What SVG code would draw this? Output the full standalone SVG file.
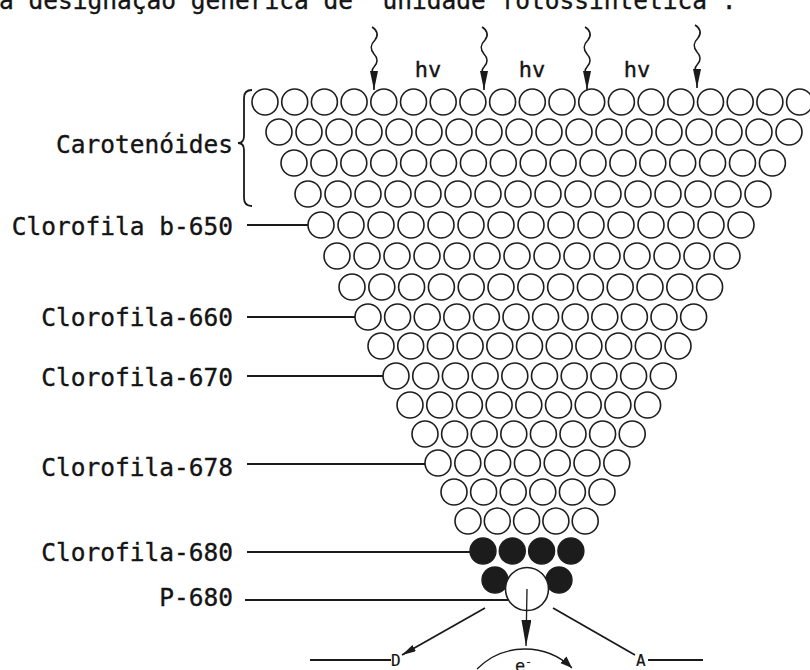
<svg xmlns="http://www.w3.org/2000/svg" xmlns:xlink="http://www.w3.org/1999/xlink" width="810" height="670" viewBox="0 0 810 670">
  <style>
    .txt { font-family: "DejaVu Sans Mono", "Liberation Mono", monospace; font-size: 24.5px; fill: #141414; stroke: #141414; stroke-width: 0.35; }
    .lbl { text-anchor: end; }
    .hv { font-size: 22px; text-anchor: middle; }
    .pig { fill: #ffffff; stroke: #1e1e1e; stroke-width: 1.6; }
    .chl { fill: #1c1c1c; stroke: #1e1e1e; stroke-width: 1.4; }
    .lead { fill: none; stroke: #1a1a1a; stroke-width: 1.8; }
    .thin { fill: none; stroke: #1a1a1a; stroke-width: 1.3; }
    .wave { fill: none; stroke: #1a1a1a; stroke-width: 1.6; }
    .head { fill: #1a1a1a; }
  </style>
  <defs>
    <marker id="photonHead" markerUnits="userSpaceOnUse" markerWidth="22" markerHeight="10" refX="19" refY="4" orient="auto">
      <path d="M0,0 L19,4 L0,8 z" class="head"/>
    </marker>
    <marker id="longHead" markerUnits="userSpaceOnUse" markerWidth="28" markerHeight="11" refX="26" refY="5" orient="auto">
      <path d="M0,0 L26,5 L0,10 z" class="head"/>
    </marker>
    <marker id="smallHead" markerUnits="userSpaceOnUse" markerWidth="16" markerHeight="8" refX="14" refY="3.5" orient="auto">
      <path d="M0,0 L14,3.5 L0,7 z" class="head"/>
    </marker>
    <marker id="arcHead" markerUnits="userSpaceOnUse" markerWidth="14" markerHeight="10" refX="12" refY="4.5" orient="auto">
      <path d="M0,0 L12,4.5 L0,9 z" class="head"/>
    </marker>
    <path id="photon" d="M-2,0 C3,3 5,8 1,13 C-4,18 -4,22 0,27 C4,31 4,36 0,40 C-3,43 -2,46 0,49 L0,63" class="wave" marker-end="url(#photonHead)"/>
  </defs>

  <rect width="810" height="670" fill="#ffffff"/>

  <!-- caption running off the top edge -->
  <text class="txt" x="-1" y="9">a designação genérica de "unidade fotossintética".</text>

  <!-- incoming light quanta -->
  <g id="light">
    <use xlink:href="#photon" x="374" y="27"/>
    <use xlink:href="#photon" x="484" y="27"/>
    <use xlink:href="#photon" x="587" y="27"/>
    <use xlink:href="#photon" x="697" y="25"/>
    <text class="txt hv" x="428" y="77">hv</text>
    <text class="txt hv" x="532" y="77">hv</text>
    <text class="txt hv" x="637" y="77">hv</text>
  </g>

  <!-- antenna pigments, top to bottom -->
  <g id="carotenoids">
    <g id="row1">
      <circle class="pig" cx="265" cy="102" r="13"/><circle class="pig" cx="294.7" cy="102" r="13"/><circle class="pig" cx="324.4" cy="102" r="13"/><circle class="pig" cx="354.1" cy="102" r="13"/><circle class="pig" cx="383.8" cy="102" r="13"/><circle class="pig" cx="413.5" cy="102" r="13"/><circle class="pig" cx="443.2" cy="102" r="13"/><circle class="pig" cx="472.9" cy="102" r="13"/><circle class="pig" cx="502.6" cy="102" r="13"/><circle class="pig" cx="532.3" cy="102" r="13"/><circle class="pig" cx="562" cy="102" r="13"/><circle class="pig" cx="591.7" cy="102" r="13"/><circle class="pig" cx="621.4" cy="102" r="13"/><circle class="pig" cx="651.1" cy="102" r="13"/><circle class="pig" cx="680.8" cy="102" r="13"/><circle class="pig" cx="710.5" cy="102" r="13"/><circle class="pig" cx="740.2" cy="102" r="13"/><circle class="pig" cx="769.9" cy="102" r="13"/><circle class="pig" cx="799.6" cy="102" r="13"/>
    </g>
    <g id="row2">
      <circle class="pig" cx="279" cy="132" r="13"/><circle class="pig" cx="309" cy="132" r="13"/><circle class="pig" cx="339" cy="132" r="13"/><circle class="pig" cx="369" cy="132" r="13"/><circle class="pig" cx="399" cy="132" r="13"/><circle class="pig" cx="429" cy="132" r="13"/><circle class="pig" cx="459" cy="132" r="13"/><circle class="pig" cx="489" cy="132" r="13"/><circle class="pig" cx="519" cy="132" r="13"/><circle class="pig" cx="549" cy="132" r="13"/><circle class="pig" cx="579" cy="132" r="13"/><circle class="pig" cx="609" cy="132" r="13"/><circle class="pig" cx="639" cy="132" r="13"/><circle class="pig" cx="669" cy="132" r="13"/><circle class="pig" cx="699" cy="132" r="13"/><circle class="pig" cx="729" cy="132" r="13"/><circle class="pig" cx="759" cy="132" r="13"/><circle class="pig" cx="789" cy="132" r="13"/>
    </g>
    <g id="row3">
      <circle class="pig" cx="294" cy="163" r="13"/><circle class="pig" cx="323.9" cy="163" r="13"/><circle class="pig" cx="353.8" cy="163" r="13"/><circle class="pig" cx="383.7" cy="163" r="13"/><circle class="pig" cx="413.6" cy="163" r="13"/><circle class="pig" cx="443.5" cy="163" r="13"/><circle class="pig" cx="473.4" cy="163" r="13"/><circle class="pig" cx="503.3" cy="163" r="13"/><circle class="pig" cx="533.2" cy="163" r="13"/><circle class="pig" cx="563.1" cy="163" r="13"/><circle class="pig" cx="593" cy="163" r="13"/><circle class="pig" cx="622.9" cy="163" r="13"/><circle class="pig" cx="652.8" cy="163" r="13"/><circle class="pig" cx="682.7" cy="163" r="13"/><circle class="pig" cx="712.6" cy="163" r="13"/><circle class="pig" cx="742.5" cy="163" r="13"/><circle class="pig" cx="772.4" cy="163" r="13"/>
    </g>
    <g id="row4">
      <circle class="pig" cx="308" cy="194" r="13"/><circle class="pig" cx="338" cy="194" r="13"/><circle class="pig" cx="368" cy="194" r="13"/><circle class="pig" cx="398" cy="194" r="13"/><circle class="pig" cx="428" cy="194" r="13"/><circle class="pig" cx="458" cy="194" r="13"/><circle class="pig" cx="488" cy="194" r="13"/><circle class="pig" cx="518" cy="194" r="13"/><circle class="pig" cx="548" cy="194" r="13"/><circle class="pig" cx="578" cy="194" r="13"/><circle class="pig" cx="608" cy="194" r="13"/><circle class="pig" cx="638" cy="194" r="13"/><circle class="pig" cx="668" cy="194" r="13"/><circle class="pig" cx="698" cy="194" r="13"/><circle class="pig" cx="728" cy="194" r="13"/><circle class="pig" cx="758" cy="194" r="13"/>
    </g>
  </g>

  <g id="chl-b650">
    <circle class="pig" cx="321" cy="225" r="13"/><circle class="pig" cx="351" cy="225" r="13"/><circle class="pig" cx="381" cy="225" r="13"/><circle class="pig" cx="411" cy="225" r="13"/><circle class="pig" cx="441" cy="225" r="13"/><circle class="pig" cx="471" cy="225" r="13"/><circle class="pig" cx="501" cy="225" r="13"/><circle class="pig" cx="531" cy="225" r="13"/><circle class="pig" cx="561" cy="225" r="13"/><circle class="pig" cx="591" cy="225" r="13"/><circle class="pig" cx="621" cy="225" r="13"/><circle class="pig" cx="651" cy="225" r="13"/><circle class="pig" cx="681" cy="225" r="13"/><circle class="pig" cx="711" cy="225" r="13"/><circle class="pig" cx="741" cy="225" r="13"/>
  </g>
  <g id="row6">
    <circle class="pig" cx="337" cy="256" r="13"/><circle class="pig" cx="367" cy="256" r="13"/><circle class="pig" cx="397" cy="256" r="13"/><circle class="pig" cx="427" cy="256" r="13"/><circle class="pig" cx="457" cy="256" r="13"/><circle class="pig" cx="487" cy="256" r="13"/><circle class="pig" cx="517" cy="256" r="13"/><circle class="pig" cx="547" cy="256" r="13"/><circle class="pig" cx="577" cy="256" r="13"/><circle class="pig" cx="607" cy="256" r="13"/><circle class="pig" cx="637" cy="256" r="13"/><circle class="pig" cx="667" cy="256" r="13"/><circle class="pig" cx="697" cy="256" r="13"/><circle class="pig" cx="727" cy="256" r="13"/>
  </g>
  <g id="row7">
    <circle class="pig" cx="352" cy="287" r="13"/><circle class="pig" cx="381.8" cy="287" r="13"/><circle class="pig" cx="411.6" cy="287" r="13"/><circle class="pig" cx="441.4" cy="287" r="13"/><circle class="pig" cx="471.2" cy="287" r="13"/><circle class="pig" cx="501" cy="287" r="13"/><circle class="pig" cx="530.8" cy="287" r="13"/><circle class="pig" cx="560.6" cy="287" r="13"/><circle class="pig" cx="590.4" cy="287" r="13"/><circle class="pig" cx="620.2" cy="287" r="13"/><circle class="pig" cx="650" cy="287" r="13"/><circle class="pig" cx="679.8" cy="287" r="13"/><circle class="pig" cx="709.6" cy="287" r="13"/>
  </g>
  <g id="chl-660">
    <circle class="pig" cx="368" cy="317" r="13"/><circle class="pig" cx="397.6" cy="317" r="13"/><circle class="pig" cx="427.2" cy="317" r="13"/><circle class="pig" cx="456.8" cy="317" r="13"/><circle class="pig" cx="486.4" cy="317" r="13"/><circle class="pig" cx="516" cy="317" r="13"/><circle class="pig" cx="545.6" cy="317" r="13"/><circle class="pig" cx="575.2" cy="317" r="13"/><circle class="pig" cx="604.8" cy="317" r="13"/><circle class="pig" cx="634.4" cy="317" r="13"/><circle class="pig" cx="664" cy="317" r="13"/><circle class="pig" cx="693.6" cy="317" r="13"/>
  </g>
  <g id="row9">
    <circle class="pig" cx="381" cy="346" r="13"/><circle class="pig" cx="410.7" cy="346" r="13"/><circle class="pig" cx="440.4" cy="346" r="13"/><circle class="pig" cx="470.1" cy="346" r="13"/><circle class="pig" cx="499.8" cy="346" r="13"/><circle class="pig" cx="529.5" cy="346" r="13"/><circle class="pig" cx="559.2" cy="346" r="13"/><circle class="pig" cx="588.9" cy="346" r="13"/><circle class="pig" cx="618.6" cy="346" r="13"/><circle class="pig" cx="648.3" cy="346" r="13"/><circle class="pig" cx="678" cy="346" r="13"/>
  </g>
  <g id="chl-670">
    <circle class="pig" cx="396" cy="376" r="13"/><circle class="pig" cx="425.7" cy="376" r="13"/><circle class="pig" cx="455.4" cy="376" r="13"/><circle class="pig" cx="485.1" cy="376" r="13"/><circle class="pig" cx="514.8" cy="376" r="13"/><circle class="pig" cx="544.5" cy="376" r="13"/><circle class="pig" cx="574.2" cy="376" r="13"/><circle class="pig" cx="603.9" cy="376" r="13"/><circle class="pig" cx="633.6" cy="376" r="13"/><circle class="pig" cx="663.3" cy="376" r="13"/>
  </g>
  <g id="row11">
    <circle class="pig" cx="410" cy="405" r="13"/><circle class="pig" cx="439.7" cy="405" r="13"/><circle class="pig" cx="469.4" cy="405" r="13"/><circle class="pig" cx="499.1" cy="405" r="13"/><circle class="pig" cx="528.8" cy="405" r="13"/><circle class="pig" cx="558.5" cy="405" r="13"/><circle class="pig" cx="588.2" cy="405" r="13"/><circle class="pig" cx="617.9" cy="405" r="13"/><circle class="pig" cx="647.6" cy="405" r="13"/>
  </g>
  <g id="row12">
    <circle class="pig" cx="425" cy="434" r="13"/><circle class="pig" cx="454.6" cy="434" r="13"/><circle class="pig" cx="484.2" cy="434" r="13"/><circle class="pig" cx="513.8" cy="434" r="13"/><circle class="pig" cx="543.4" cy="434" r="13"/><circle class="pig" cx="573" cy="434" r="13"/><circle class="pig" cx="602.6" cy="434" r="13"/><circle class="pig" cx="632.2" cy="434" r="13"/>
  </g>
  <g id="chl-678">
    <circle class="pig" cx="438" cy="463" r="13"/><circle class="pig" cx="467.8" cy="463" r="13"/><circle class="pig" cx="497.6" cy="463" r="13"/><circle class="pig" cx="527.4" cy="463" r="13"/><circle class="pig" cx="557.2" cy="463" r="13"/><circle class="pig" cx="587" cy="463" r="13"/><circle class="pig" cx="616.8" cy="463" r="13"/>
  </g>
  <g id="row14">
    <circle class="pig" cx="454" cy="492" r="13"/><circle class="pig" cx="483.6" cy="492" r="13"/><circle class="pig" cx="513.2" cy="492" r="13"/><circle class="pig" cx="542.8" cy="492" r="13"/><circle class="pig" cx="572.4" cy="492" r="13"/><circle class="pig" cx="602" cy="492" r="13"/>
  </g>
  <g id="row15">
    <circle class="pig" cx="468" cy="521" r="13"/><circle class="pig" cx="497.3" cy="521" r="13"/><circle class="pig" cx="526.6" cy="521" r="13"/><circle class="pig" cx="555.9" cy="521" r="13"/><circle class="pig" cx="585.2" cy="521" r="13"/>
  </g>
  <g id="chl-680">
    <circle class="chl" cx="483" cy="551" r="13"/><circle class="chl" cx="512.3" cy="551" r="13"/><circle class="chl" cx="541.6" cy="551" r="13"/><circle class="chl" cx="570.9" cy="551" r="13"/>
    <circle class="chl" cx="495" cy="580" r="13"/><circle class="chl" cx="559" cy="580" r="13"/>
  </g>
  <g id="p680">
    <circle class="pig" cx="527" cy="589" r="21.5"/>
  </g>

  <!-- donor and acceptor -->
  <g id="donor">
    <text class="txt" x="391" y="666" style="font-size:16px;stroke-width:0.2">D</text>
  </g>
  <g id="acceptor">
    <text class="txt" x="636" y="666" style="font-size:16px;stroke-width:0.2">A</text>
  </g>

  <!-- labels -->
  <g id="labels">
    <text class="txt lbl" x="233" y="153">Carotenóides</text>
    <path class="thin" d="M252,90 Q244,90 244,98 L244,136 Q244,143 238,143 Q244,143 244,150 L244,198 Q244,206 252,206" style="stroke-width:1.8"/>
    <text class="txt lbl" x="233" y="235">Clorofila b-650</text>
    <text class="txt lbl" x="233" y="326">Clorofila-660</text>
    <text class="txt lbl" x="233" y="386">Clorofila-670</text>
    <text class="txt lbl" x="233" y="476">Clorofila-678</text>
    <text class="txt lbl" x="233" y="561">Clorofila-680</text>
    <text class="txt lbl" x="233" y="606">P-680</text>
  </g>

  <!-- leader lines and electron path -->
  <g id="connectors">
    <line class="lead" x1="247" y1="225" x2="308" y2="225"/>
    <line class="lead" x1="247" y1="317" x2="355" y2="317"/>
    <line class="lead" x1="247" y1="376" x2="383" y2="376"/>
    <line class="lead" x1="247" y1="464" x2="425" y2="464"/>
    <line class="lead" x1="247" y1="552" x2="470" y2="552"/>
    <line class="lead" x1="245" y1="600" x2="508" y2="600"/>
    <line class="thin" x1="527" y1="589" x2="526" y2="646" marker-end="url(#longHead)"/>
    <line class="lead" x1="485" y1="608" x2="402" y2="655" marker-end="url(#smallHead)"/>
    <line class="lead" x1="553" y1="608" x2="635" y2="655"/>
    <line class="lead" x1="310" y1="660" x2="391" y2="660"/>
    <line class="lead" x1="648" y1="660" x2="703" y2="660"/>
    <path class="thin" d="M477,669 A67.6,67.6 0 0 1 572,668" marker-end="url(#arcHead)"/>
    <text class="txt" x="515" y="672" style="font-size:17px;stroke-width:0.2">e<tspan dy="-7" style="font-size:11px">-</tspan></text>
  </g>
</svg>
